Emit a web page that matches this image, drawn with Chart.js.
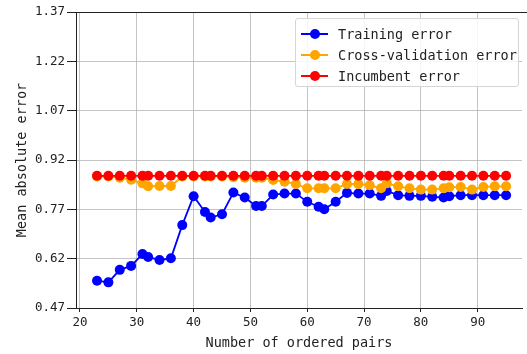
<!DOCTYPE html>
<html>
<head>
<meta charset="utf-8">
<script src="https://cdn.jsdelivr.net/npm/chart.js@4.4.0/dist/chart.umd.min.js"></script>
<style>
  html, body { margin: 0; padding: 0; background: #fff; overflow: hidden; }
  #wrap { position: relative; width: 527px; height: 354px; }
  #leyenda {
    position: absolute; left: 295px; top: 18px; width: 224px; height: 69px;
    box-sizing: border-box; border: 1px solid #d6d6d6; border-radius: 3px;
    background: rgba(255, 255, 255, 0.85);
    font-family: "DejaVu Sans Mono", monospace; font-size: 13.5px; color: #222;
    padding-top: 4px;
  }
  .item { display: flex; align-items: center; height: 21px; }
  .marca { position: relative; width: 27px; height: 10px; margin: 0 10px 0 5px; }
  .marca .linea { position: absolute; left: 0; right: 0; top: 4px; height: 2px; }
  .marca .punto { position: absolute; left: 9px; top: 0; width: 10px; height: 10px; border-radius: 50%; }
</style>
</head>
<body>
<div id="wrap">
  <canvas id="grafico" width="527" height="354"></canvas>
  <div id="leyenda"></div>
</div>
<script>
// datos
const pairs = [23, 25, 27, 29, 31, 32, 34, 36, 38, 40, 42, 43, 45, 47, 49, 51, 52, 54, 56, 58,
  60, 62, 63, 65, 67, 69, 71, 73, 74, 76, 78, 80, 82, 84, 85, 87, 89, 91, 93, 95];
const trainingError = [0.553, 0.548, 0.586, 0.598, 0.634, 0.625, 0.616, 0.621, 0.722, 0.810,
  0.762, 0.745, 0.755, 0.821, 0.806, 0.780, 0.780, 0.815, 0.818, 0.818,
  0.793, 0.778, 0.770, 0.793, 0.820, 0.818, 0.818, 0.811, 0.826, 0.813,
  0.811, 0.811, 0.808, 0.806, 0.810, 0.813, 0.813, 0.813, 0.813, 0.813];
const cvError = [0.870, 0.870, 0.866, 0.860, 0.849, 0.840, 0.841, 0.841, 0.870, 0.870,
  0.870, 0.870, 0.870, 0.868, 0.866, 0.866, 0.866, 0.859, 0.854, 0.847,
  0.834, 0.834, 0.834, 0.834, 0.847, 0.847, 0.843, 0.834, 0.849, 0.840,
  0.834, 0.830, 0.830, 0.834, 0.837, 0.838, 0.830, 0.838, 0.840, 0.840];
const incumbentError = [0.872, 0.872, 0.872, 0.872, 0.872, 0.872, 0.872, 0.872, 0.872, 0.872,
  0.872, 0.872, 0.872, 0.872, 0.872, 0.872, 0.872, 0.872, 0.872, 0.872,
  0.872, 0.872, 0.872, 0.872, 0.872, 0.872, 0.872, 0.872, 0.872, 0.872,
  0.872, 0.872, 0.872, 0.872, 0.872, 0.872, 0.872, 0.872, 0.872, 0.872];
const xTicks = [20, 30, 40, 50, 60, 70, 80, 90];
const yTicks = [0.47, 0.62, 0.77, 0.92, 1.07, 1.22, 1.37];

const series = [
  { label: "Training error", valores: trainingError, color: "#0000ff", orden: 3 },
  { label: "Cross-validation error", valores: cvError, color: "#ffa500", orden: 2 },
  { label: "Incumbent error", valores: incumbentError, color: "#ff0000", orden: 1 },
];

const fuente = "'DejaVu Sans Mono', monospace";
const gris = "rgba(176,176,176,0.75)";

// marco superior (matplotlib dibuja la caja completa)
const marco = {
  id: "marco",
  afterDraw(chart) {
    const { ctx, chartArea } = chart;
    ctx.save();
    ctx.strokeStyle = "#222";
    ctx.lineWidth = 1;
    ctx.beginPath();
    ctx.moveTo(chartArea.left, chartArea.top + 0.5);
    ctx.lineTo(chartArea.right + 5, chartArea.top + 0.5);
    ctx.stroke();
    ctx.restore();
  },
};

const chart = new Chart(document.getElementById("grafico"), {
  type: "scatter",
  data: {
    datasets: series.map((s) => ({
      label: s.label,
      data: pairs.map((x, i) => ({ x: x, y: s.valores[i] })),
      showLine: true,
      borderColor: s.color,
      backgroundColor: s.color,
      borderWidth: 1.8,
      pointRadius: 5,
      pointHoverRadius: 5,
      pointBorderWidth: 0,
      order: s.orden,
    })),
  },
  options: {
    responsive: false,
    animation: false,
    clip: false,
    layout: { padding: { top: 12, left: 0, right: 0, bottom: 0 } },
    plugins: { legend: { display: false }, tooltip: { enabled: false } },
    scales: {
      x: {
        type: "linear",
        min: 19.3,
        max: 97.8,
        afterBuildTicks: (scale) => { scale.ticks = xTicks.map((v) => ({ value: v })); },
        afterFit: (scale) => { scale.height = 46; },
        grid: { color: gris, lineWidth: 1, drawTicks: true, tickLength: 4, tickColor: "#222" },
        border: { display: true, color: "#222", width: 1 },
        ticks: { color: "#222", font: { family: fuente, size: 12.5 }, padding: 3, maxRotation: 0 },
        title: {
          display: true, text: "Number of ordered pairs", color: "#222",
          font: { family: fuente, size: 13.5 }, padding: { top: 0, bottom: 2 },
        },
      },
      y: {
        type: "linear",
        min: 0.47,
        max: 1.37,
        afterBuildTicks: (scale) => { scale.ticks = yTicks.map((v) => ({ value: v })); },
        afterFit: (scale) => { scale.width = 76; },
        grid: { color: gris, lineWidth: 1, drawTicks: true, tickLength: 9, tickColor: "#222" },
        border: { display: true, color: "#222", width: 1 },
        ticks: {
          color: "#222", font: { family: fuente, size: 12.5 }, padding: 2,
          callback: (v) => v.toFixed(2),
        },
        title: {
          display: true, text: "Mean absolute error", color: "#222",
          font: { family: fuente, size: 13.5 }, padding: { top: 14, bottom: 0 },
        },
      },
    },
  },
  plugins: [marco],
});

// leyenda en html
const leyenda = document.getElementById("leyenda");
chart.data.datasets.forEach((ds) => {
  const item = document.createElement("div");
  item.className = "item";
  const marca = document.createElement("span");
  marca.className = "marca";
  const linea = document.createElement("span");
  linea.className = "linea";
  linea.style.background = ds.borderColor;
  const punto = document.createElement("span");
  punto.className = "punto";
  punto.style.background = ds.backgroundColor;
  marca.appendChild(linea);
  marca.appendChild(punto);
  const texto = document.createElement("span");
  texto.textContent = ds.label;
  item.appendChild(marca);
  item.appendChild(texto);
  leyenda.appendChild(item);
});
</script>
</body>
</html>
